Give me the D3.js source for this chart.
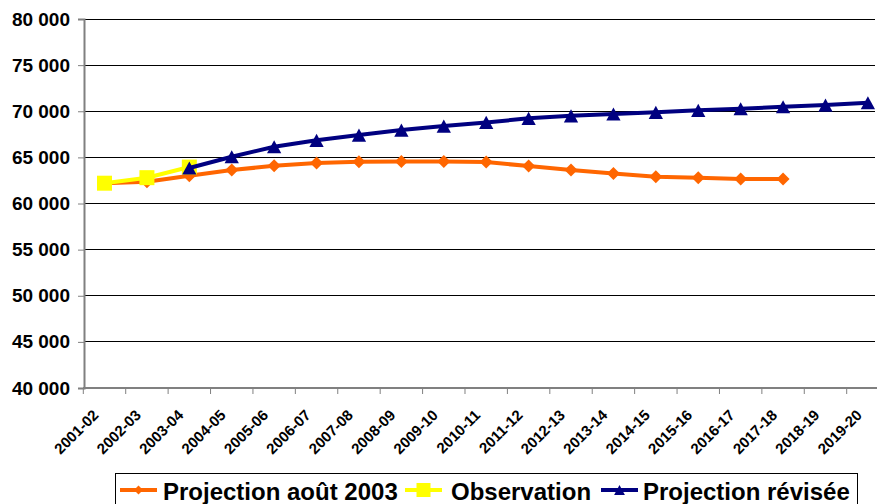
<!DOCTYPE html>
<html><head><meta charset="utf-8">
<script src="https://cdn.jsdelivr.net/npm/d3@7"></script>
<style>body{margin:0;background:#fff}svg{display:block;font-family:"Liberation Sans",Arial,sans-serif}</style>
</head><body><svg id="c" width="877" height="504"></svg>
<script>
const categories = ["2001-02","2002-03","2003-04","2004-05","2005-06","2006-07","2007-08","2008-09","2009-10","2010-11","2011-12","2012-13","2013-14","2014-15","2015-16","2016-17","2017-18","2018-19","2019-20"];
const projAout2003 = [62200,62350,63000,63620,64090,64400,64520,64560,64560,64490,64060,63620,63260,62900,62790,62650,62650,null,null];
const observation = [62200,62800,63950,null,null,null,null,null,null,null,null,null,null,null,null,null,null,null,null];
const projRevisee = [null,null,63850,65070,66150,66850,67420,67960,68390,68790,69230,69500,69700,69880,70100,70270,70490,70670,70920];
const yTicks = [40000,45000,50000,55000,60000,65000,70000,75000,80000];
const legendLabels = ["Projection août 2003","Observation","Projection révisée"];

const svg = d3.select("#c");
const x = d3.scaleBand().domain(categories).range([83.3, 889.1]);
const y = d3.scaleLinear().domain([40000, 80000]).range([388, 19]);
const fmt = v => d3.format(",")(v).replace(/,/g, " ");

// marker shapes (half-size r)
const shapes = {
  diamond: r => `M0,${-r}L${r},0L0,${r}L${-r},0Z`,
  square: r => `M${-r},${-r}H${r}V${r}H${-r}Z`,
  triangle: r => `M0,${-r}L${r*1.08},${r}L${-r*1.08},${r}Z`
};

// gridlines
svg.append("g").selectAll("line").data(yTicks.slice(1)).join("line")
  .attr("x1", 84).attr("x2", 875).attr("y1", d => y(d)).attr("y2", d => y(d))
  .attr("stroke", "#000").attr("stroke-width", 1).attr("shape-rendering","crispEdges");

// y axis
const ya = svg.append("g").attr("transform","translate(84,0)")
  .call(d3.axisLeft(y).tickValues(yTicks).tickFormat(fmt).tickSize(6).tickPadding(8));
ya.select(".domain").attr("stroke","#808080").attr("stroke-width",2);
ya.selectAll(".tick line").attr("stroke","#808080");
ya.selectAll("text").attr("font-size","19px").attr("font-weight","bold").attr("fill","#000")
  .attr("font-family","Liberation Sans, Arial, sans-serif");

// x axis
const xa = svg.append("g").attr("transform","translate(0,388)");
xa.append("line").attr("x1",83).attr("x2",877).attr("y1",0).attr("y2",0).attr("stroke","#808080").attr("stroke-width",2);
const bounds = categories.map(c => x(c));
xa.selectAll("line.t").data(bounds).join("line").attr("class","t")
  .attr("x1", d => d).attr("x2", d => d).attr("y1",0).attr("y2",6).attr("stroke","#808080");
xa.selectAll("text").data(categories).join("text")
  .attr("transform", d => `translate(${x(d)+x.bandwidth()/2-5},${28}) rotate(-45)`)
  .attr("text-anchor","end").attr("font-size","15px").attr("font-weight","bold").text(d => d);

const cx = c => x(c) + x.bandwidth()/2;
const line = arr => d3.line().defined(d => d[1] != null).x(d => cx(d[0])).y(d => y(d[1]))(categories.map((c,i)=>[c,arr[i]]));

const series = [
  {data: projAout2003, color: "#FF6600", shape: "diamond", r: 6.5, lr: 4.5},
  {data: observation, color: "#FFFF00", shape: "square", r: 7.5, lr: 7},
  {data: projRevisee, color: "#000080", shape: "triangle", r: 6.6, lr: 5}
];
series.forEach(s => {
  svg.append("path").attr("d", line(s.data)).attr("fill","none").attr("stroke", s.color).attr("stroke-width",4);
  svg.append("g").selectAll("path").data(categories.map((c,i)=>[c,s.data[i]]).filter(d=>d[1]!=null)).join("path")
    .attr("transform", d => `translate(${cx(d[0])},${y(d[1])})`)
    .attr("d", shapes[s.shape](s.r)).attr("fill", s.color);
});

// legend
const lg = svg.append("g");
lg.append("rect").attr("x",115.5).attr("y",473.5).attr("width",742).attr("height",40).attr("fill","#fff").attr("stroke","#000");
const lx = [120, 405, 601];
const tx = [163, 451, 643];
series.forEach((s,i) => {
  const g = lg.append("g").attr("transform",`translate(${lx[i]},490)`);
  g.append("line").attr("x1",0).attr("x2",37).attr("stroke",s.color).attr("stroke-width",4);
  g.append("path").attr("transform","translate(18.5,0)").attr("d", shapes[s.shape](s.lr)).attr("fill",s.color);
  lg.append("text").attr("x",tx[i]).attr("y",500).attr("font-size","24px").attr("font-weight","bold").text(legendLabels[i]);
});
</script></body></html>
